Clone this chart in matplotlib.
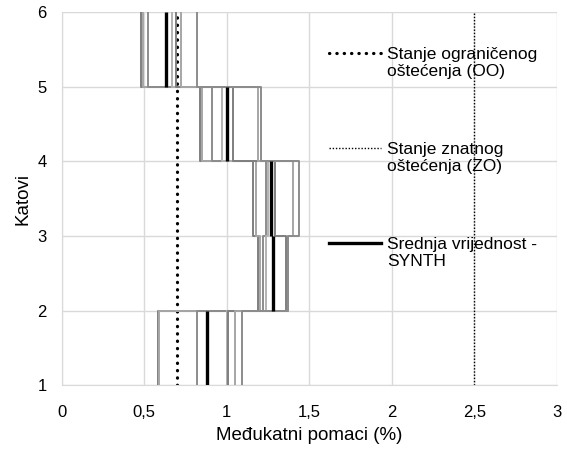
import matplotlib
matplotlib.use("Agg")
import numpy as np
import matplotlib.pyplot as plt
from matplotlib.lines import Line2D
from matplotlib.legend_handler import HandlerLine2D

plt.rcParams['font.family'] = ['Liberation Sans', 'DejaVu Sans']

# storeys (floor levels) and drift per storey for each record
storeys = [1, 2, 3, 4, 5]
rec1 = [0.58, 1.19, 1.16, 0.84, 0.48]
rec2 = [0.59, 1.20, 1.18, 0.85, 0.49]
rec3 = [0.82, 1.22, 1.24, 0.91, 0.52]
rec4 = [1.00, 1.24, 1.25, 0.97, 0.67]
rec5 = [1.01, 1.36, 1.29, 1.04, 0.69]
rec6 = [1.05, 1.37, 1.40, 1.19, 0.72]
rec7 = [1.09, 1.37, 1.44, 1.21, 0.82]
records = [rec1, rec2, rec3, rec4, rec5, rec6, rec7]
rec_colors = ['#7f7f7f', '#a6a6a6', '#8c8c8c', '#b3b3b3', '#7f7f7f', '#a6a6a6', '#8c8c8c']
mean_vals = [0.88, 1.28, 1.27, 1.00, 0.63]
limit_do = 0.7
limit_zo = 2.5
xticks = [0, 0.5, 1, 1.5, 2, 2.5, 3]
xtick_labels = ['0', '0,5', '1', '1,5', '2', '2,5', '3']
yticks = [1, 2, 3, 4, 5, 6]


def step_xy(vals):
    xs, ys = [], []
    for s, v in zip(storeys, vals):
        xs += [v, v]
        ys += [s, s + 1]
    return xs, ys


def vert_xy(vals):
    xs, ys = [], []
    for s, v in zip(storeys, vals):
        xs += [v, v, np.nan]
        ys += [s, s + 1, np.nan]
    return xs, ys


class HandlerTop(HandlerLine2D):
    def create_artists(self, legend, orig_handle, xdescent, ydescent,
                       width, height, fontsize, trans):
        arts = super().create_artists(legend, orig_handle, xdescent, ydescent,
                                      width, height, fontsize, trans)
        for a in arts:
            y = np.asarray(a.get_ydata(), dtype=float)
            a.set_ydata(y + 0.6 * fontsize)
        return arts


fig = plt.figure(figsize=(5.67, 4.5), dpi=100)
ax = fig.add_axes([0.109, 0.144, 0.873, 0.829])

dot_do = dict(color='black', lw=2.3, linestyle=(0, (0.1, 2.2)), dash_capstyle='round')
dot_zo = dict(color='black', lw=1.0, linestyle=(0, (1, 1.3)))

ax.plot([limit_do, limit_do], [1, 6], zorder=2, **dot_do)
ax.plot([limit_zo, limit_zo], [1, 6], zorder=2, **dot_zo)

for r, c in zip(records, rec_colors):
    xs, ys = step_xy(r)
    ax.plot(xs, ys, color=c, lw=1.4, zorder=3)

xs, ys = vert_xy(mean_vals)
ax.plot(xs, ys, color='black', lw=2.4, zorder=4, solid_capstyle='butt')

ax.set_xlim(0, 3)
ax.set_ylim(1, 6)
ax.set_xticks(xticks)
ax.set_xticklabels(xtick_labels)
ax.set_yticks(yticks)
ax.grid(True, color='#d9d9d9', lw=1)
ax.set_axisbelow(True)
for sp in ['top', 'right']:
    ax.spines[sp].set_visible(False)
for sp in ['left', 'bottom']:
    ax.spines[sp].set_color('#d9d9d9')
ax.tick_params(length=0, labelsize=12, colors='#000000')
ax.tick_params(axis='x', pad=14)
ax.tick_params(axis='y', pad=11)
ax.set_xlabel('Međukatni pomaci (%)', fontsize=13.5, labelpad=5)
ax.set_ylabel('Katovi', fontsize=13.5, labelpad=4)

handles = [
    Line2D([], [], **dot_do),
    Line2D([], [], **dot_zo),
    Line2D([], [], color='black', lw=2.4),
]
labels = ['Stanje ograničenog\noštećenja (OO)',
          'Stanje znatnog\noštećenja (ZO)',
          'Srednja vrijednost -\nSYNTH']
leg = ax.legend(handles, labels, loc='upper left', bbox_to_anchor=(0.525, 0.925),
                frameon=False, fontsize=12.5, labelspacing=3.6, handlelength=3.0,
                handletextpad=0.35, borderaxespad=0,
                handler_map={Line2D: HandlerTop()})

fig.savefig('out.png', dpi=100)
